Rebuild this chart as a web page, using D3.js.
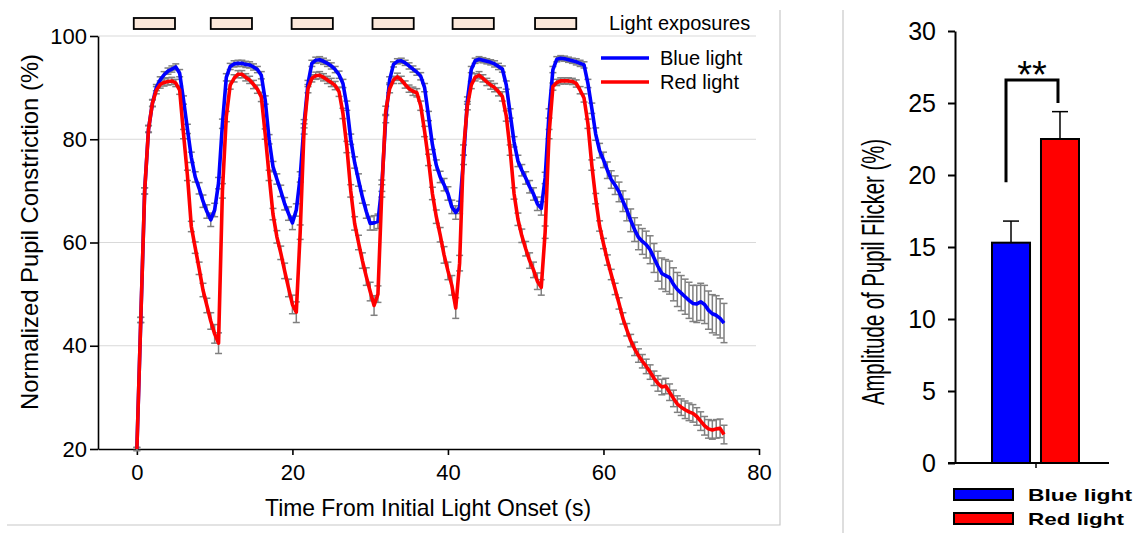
<!DOCTYPE html>
<html>
<head>
<meta charset="utf-8">
<script src="https://cdn.jsdelivr.net/npm/d3@7"></script>
<style>
  body { margin: 0; background: #fff; }
  svg text { font-family: "Liberation Sans", Arial, sans-serif; fill: #000; }
</style>
</head>
<body>
<svg id="fig" width="1138" height="533"></svg>
<script>
// ---- data: pupil constriction time course, one sample every 0.5 s ----
var sampleStep = 0.5;

var blueMean = [
	20, 45, 70, 82, 87, 90, 91.5, 92.5, 93.2, 93.6,
	94.0, 92.8, 87.6, 82, 76.5, 72.7, 70.5, 68, 66, 64.4,
	66.3, 71.5, 83, 92, 94.1, 94.6, 94.7, 94.7, 94.5, 94.4,
	94.0, 93.5, 92.4, 87.6, 80, 74.7, 72.3, 70, 67.5, 65.6,
	63.8, 66.3, 72.7, 83, 90.8, 94.7, 95.3, 95.4, 95.1, 94.7,
	94.2, 93.5, 92.5, 90.8, 86.5, 80, 75.5, 72.1, 68.8, 66,
	63.7, 63.8, 64.1, 71, 84, 91.5, 94.5, 95.1, 95.2, 94.8,
	94.2, 93.6, 93.0, 92.2, 90, 84.5, 79, 75, 72.7, 71.2,
	69.5, 66.9, 65.8, 66.8, 76, 87.5, 93.5, 95.2, 95.5, 95.3,
	95.1, 94.9, 94.6, 94.1, 93.6, 90.5, 85, 79.5, 75.8, 74.0,
	72.5, 70.8, 69.4, 67.5, 66.6, 72.5, 85, 93.5, 95.5, 95.7,
	95.6, 95.4, 95.2, 95.0, 94.7, 94.4, 90.8, 86, 81, 77.8,
	76.0, 74, 72.2, 71.1, 69.8, 68, 66.3, 64.3, 62.5, 61,
	60.2, 59.6, 58.6, 57, 55.4, 54.0, 53.6, 53.2, 51.9, 50.9,
	50.2, 49.5, 48.8, 48.2, 48.1, 48.5, 48.0, 46.9, 46.2, 45.9, 45.3, 44.4
];
var blueErr = [
	0.3, 0.5, 0.6, 0.6, 0.6, 0.6, 0.6, 0.6, 0.6, 0.6,
	0.6, 0.7, 0.8, 0.9, 1.0, 1.0, 1.1, 1.2, 1.3, 1.3,
	1.3, 1.1, 0.9, 0.7, 0.6, 0.6, 0.6, 0.6, 0.6, 0.6,
	0.6, 0.6, 0.7, 0.8, 0.9, 1.0, 1.0, 1.1, 1.2, 1.3,
	1.3, 1.2, 1.0, 0.8, 0.6, 0.6, 0.6, 0.6, 0.6, 0.6,
	0.6, 0.6, 0.7, 0.8, 0.9, 1.0, 1.1, 1.2, 1.2, 1.3,
	1.3, 1.4, 1.4, 1.1, 0.8, 0.6, 0.5, 0.5, 0.5, 0.5,
	0.6, 0.6, 0.6, 0.7, 0.8, 0.9, 1.0, 1.0, 1.1, 1.2,
	1.3, 1.3, 1.3, 1.2, 0.9, 0.7, 0.6, 0.5, 0.5, 0.5,
	0.5, 0.5, 0.6, 0.6, 0.6, 0.8, 0.9, 1.0, 1.1, 1.1,
	1.2, 1.2, 1.2, 1.3, 1.3, 1.1, 0.9, 0.6, 0.5, 0.5,
	0.5, 0.5, 0.5, 0.6, 0.6, 0.6, 0.8, 1.0, 1.2, 1.4,
	1.5, 1.6, 1.7, 1.8, 1.9, 2.0, 2.1, 2.2, 2.3, 2.4,
	2.5, 2.6, 2.7, 2.8, 2.9, 3.0, 3.1, 3.2, 3.2, 3.3,
	3.4, 3.4, 3.5, 3.5, 3.6, 3.6, 3.7, 3.7, 3.7, 3.8, 3.8, 3.8
];

var redMean = [
	20, 45, 70, 82, 87, 89.5, 90.6, 91.0, 91.2, 91.3,
	90.9, 89.5, 81, 73, 63.1, 59, 55, 50.8, 47.8, 44.8,
	42.3, 40.5, 70, 84.4, 90.5, 91.8, 92.6, 92.6, 92.0, 91.5,
	90.6, 89.7, 88.2, 81, 73, 65.5, 61.1, 58, 54.5, 51.2,
	48.0, 46.5, 62, 82, 89.8, 91.8, 92.3, 92.4, 92.0, 91.5,
	91.0, 90.4, 89.2, 85, 78.5, 70, 63.7, 60, 56.5, 53.4,
	50.5, 47.8, 50, 70, 85.5, 89.8, 91.5, 92.1, 91.5, 90.6,
	89.8, 89.3, 89.0, 86.5, 81.5, 76, 69.5, 65, 61.5, 57.6,
	54.5, 51.7, 47.3, 56, 77.9, 86.5, 90.5, 92.0, 92.4, 91.8,
	91.1, 90.5, 90.0, 89.2, 88.3, 84.5, 77.9, 69.5, 64.5, 61.3,
	58.8, 56.5, 54.7, 52.5, 51.3, 62, 81, 90.2, 91.0, 91.3,
	91.3, 91.3, 91.2, 90.8, 89.5, 88, 83, 75, 68.5, 63.2,
	59.8, 56.6, 53.8, 51.0, 48.2, 45.3, 43.1, 41.0, 39.4, 38.1,
	37.0, 36.0, 34.9, 33.7, 32.7, 32.0, 32.2, 31.0, 29.8, 28.7,
	28.1, 27.6, 27.2, 26.9, 26.3, 25.4, 24.5, 23.9, 23.7, 23.9, 24.0, 22.8
];
var redErr = [
	0.3, 0.5, 0.6, 0.7, 0.7, 0.7, 0.7, 0.7, 0.7, 0.7,
	0.7, 0.8, 0.9, 1.0, 1.0, 1.1, 1.2, 1.3, 1.4, 1.6,
	1.8, 2.0, 1.4, 1.0, 0.8, 0.7, 0.7, 0.7, 0.7, 0.7,
	0.8, 0.8, 0.9, 1.0, 1.0, 1.1, 1.2, 1.3, 1.5, 1.7,
	1.8, 2.0, 1.4, 1.0, 0.8, 0.7, 0.7, 0.7, 0.7, 0.7,
	0.8, 0.8, 0.9, 1.0, 1.1, 1.2, 1.3, 1.4, 1.5, 1.7,
	1.8, 1.9, 1.6, 1.2, 0.9, 0.8, 0.7, 0.7, 0.7, 0.7,
	0.7, 0.8, 0.8, 0.9, 1.0, 1.1, 1.2, 1.3, 1.4, 1.6,
	1.7, 1.9, 2.0, 1.5, 1.0, 0.8, 0.7, 0.7, 0.7, 0.7,
	0.7, 0.8, 0.8, 0.8, 0.9, 1.0, 1.0, 1.1, 1.2, 1.3,
	1.4, 1.5, 1.5, 1.6, 1.5, 1.2, 0.9, 0.7, 0.6, 0.6,
	0.6, 0.6, 0.6, 0.7, 0.7, 0.8, 0.9, 1.0, 1.0, 1.0,
	1.0, 1.0, 1.0, 1.1, 1.1, 1.1, 1.2, 1.2, 1.3, 1.3,
	1.3, 1.4, 1.4, 1.4, 1.5, 1.5, 1.5, 1.6, 1.6, 1.6,
	1.6, 1.7, 1.7, 1.7, 1.7, 1.8, 1.8, 1.8, 1.8, 1.8, 1.8, 1.8
];

// light exposure windows (s)
var exposureStart = [-0.4, 9.5, 19.9, 30.3, 40.6, 51.2];
var exposureLength = 5.3;

var lineTicksX = [0, 20, 40, 60, 80];
var lineTicksY = [20, 40, 60, 80, 100];

// ---- data: flicker amplitude bars ----
var barLabels = ["Blue light", "Red light"];
var barValues = [15.3, 22.5];
var barErrors = [1.5, 1.9];
var barColors = ["#0000ff", "#ff0000"];
var barTicksY = [0, 5, 10, 15, 20, 25, 30];

var svg = d3.select("#fig");

// panel frames
svg.append("path").attr("d", "M7,525H780V10").attr("fill", "none").attr("stroke", "#c8c8c8").attr("stroke-width", 1.2);
svg.append("line").attr("x1", 843).attr("x2", 843).attr("y1", 10).attr("y2", 533).attr("stroke", "#c8c8c8").attr("stroke-width", 1.2);

// ================= left: time course =================
var x = d3.scaleLinear().domain([-5, 80]).range([98, 759]);
var y = d3.scaleLinear().domain([20, 100]).range([449, 36]);

function toPoints(mean, err) {
	return mean.map(function(v, i) { return { t: i * sampleStep, v: v, e: err[i] }; });
}
var series = [
	{ name: "Blue light", color: "#0000ff", pts: toPoints(blueMean, blueErr) },
	{ name: "Red light", color: "#ff0000", pts: toPoints(redMean, redErr) }
];

// grid
svg.append("g").selectAll("line")
	.data(lineTicksY.filter(function(d) { return d > 20; }))
	.enter().append("line")
	.attr("x1", x(-5)).attr("x2", 756)
	.attr("y1", function(d) { return y(d); }).attr("y2", function(d) { return y(d); })
	.attr("stroke", "#d9d9d9").attr("stroke-width", 1.2);

// exposure boxes
svg.append("g").selectAll("rect")
	.data(exposureStart)
	.enter().append("rect")
	.attr("x", function(d) { return x(d); })
	.attr("width", function(d) { return x(d + exposureLength) - x(d); })
	.attr("y", 18).attr("height", 11)
	.attr("fill", "#fbe8da").attr("stroke", "#000").attr("stroke-width", 1.8);
svg.append("text").attr("x", 609).attr("y", 30).style("font-size", "20px").text("Light exposures");

// axes
var yAxis = svg.append("g").attr("transform", "translate(" + x(-5) + ",0)")
	.call(d3.axisLeft(y).tickValues(lineTicksY).tickSize(8).tickSizeOuter(0).tickPadding(3));
var xAxis = svg.append("g").attr("transform", "translate(0," + y(20) + ")")
	.call(d3.axisBottom(x).tickValues(lineTicksX).tickSize(6).tickSizeOuter(0).tickPadding(9));
[yAxis, xAxis].forEach(function(a) {
	a.selectAll("path, line").attr("stroke", "#000").attr("stroke-width", 1.6);
	a.selectAll("text").style("font-size", "22px").style("font-family", "Liberation Sans, Arial, sans-serif");
});
xAxis.selectAll("text").style("font-family", "'Liberation Sans Narrow', 'Liberation Sans', sans-serif").style("font-size", "22px");

// error bars
var errG = svg.append("g");
series.forEach(function(s) {
	var g = errG.append("g").selectAll("g").data(s.pts).enter().append("g");
	g.append("line")
		.attr("x1", function(d) { return x(d.t); }).attr("x2", function(d) { return x(d.t); })
		.attr("y1", function(d) { return y(d.v - d.e); }).attr("y2", function(d) { return y(d.v + d.e); });
	[-1, 1].forEach(function(sign) {
		g.append("line")
			.attr("x1", function(d) { return x(d.t) - 3.5; }).attr("x2", function(d) { return x(d.t) + 3.5; })
			.attr("y1", function(d) { return y(d.v + sign * d.e); }).attr("y2", function(d) { return y(d.v + sign * d.e); });
	});
	g.selectAll("line").attr("stroke", "#808080").attr("stroke-width", 1.5);
});

// lines
var line = d3.line().x(function(d) { return x(d.t); }).y(function(d) { return y(d.v); });
svg.append("g").selectAll("path")
	.data(series)
	.enter().append("path")
	.attr("d", function(d) { return line(d.pts); })
	.attr("fill", "none")
	.attr("stroke", function(d) { return d.color; })
	.attr("stroke-width", 3.6)
	.attr("stroke-linejoin", "round");

// legend
var leg = svg.append("g").selectAll("g").data(series).enter().append("g")
	.attr("transform", function(d, i) { return "translate(601," + (58 + i * 24) + ")"; });
leg.append("line").attr("x1", 0).attr("x2", 48).attr("stroke", function(d) { return d.color; }).attr("stroke-width", 3.6);
leg.append("text").attr("x", 59).attr("dy", "0.35em").style("font-size", "20px").text(function(d) { return d.name; });

// titles
svg.append("text")
	.attr("transform", "translate(38,232) rotate(-90)")
	.attr("text-anchor", "middle")
	.attr("textLength", 356).attr("lengthAdjust", "spacingAndGlyphs")
	.style("font-size", "24px")
	.text("Normalized Pupil Constriction (%)");
svg.append("text")
	.attr("x", 428).attr("y", 516)
	.attr("text-anchor", "middle")
	.attr("textLength", 326).attr("lengthAdjust", "spacingAndGlyphs")
	.style("font-size", "24px")
	.text("Time From Initial Light Onset (s)");

// ================= right: bar chart =================
var yb = d3.scaleLinear().domain([0, 30]).range([463, 31]);
var xb = d3.scaleBand().domain(barLabels).range([992, 1079]).paddingInner(0.224).paddingOuter(0);

var ybAxis = svg.append("g").attr("transform", "translate(955,0)")
	.call(d3.axisLeft(yb).tickValues(barTicksY).tickSize(7).tickSizeOuter(0).tickPadding(12));
ybAxis.selectAll("path, line").attr("stroke", "#000").attr("stroke-width", 2);
ybAxis.selectAll("text").style("font-size", "25px").style("font-family", "Liberation Sans, Arial, sans-serif");

// x baseline and centre tick
svg.append("line").attr("x1", 948).attr("x2", 1109).attr("y1", yb(0)).attr("y2", yb(0)).attr("stroke", "#000").attr("stroke-width", 2);
svg.append("line").attr("x1", 1036).attr("x2", 1036).attr("y1", yb(0)).attr("y2", yb(0) + 5).attr("stroke", "#000").attr("stroke-width", 1.5);

var bars = svg.append("g").selectAll("g").data(barLabels).enter().append("g");
bars.append("line")
	.attr("x1", function(d) { return xb(d) + xb.bandwidth() / 2; })
	.attr("x2", function(d) { return xb(d) + xb.bandwidth() / 2; })
	.attr("y1", function(d, i) { return yb(barValues[i]); })
	.attr("y2", function(d, i) { return yb(barValues[i] + barErrors[i]); })
	.attr("stroke", "#000").attr("stroke-width", 1.5);
bars.append("line")
	.attr("x1", function(d) { return xb(d) + xb.bandwidth() / 2 - 8; })
	.attr("x2", function(d) { return xb(d) + xb.bandwidth() / 2 + 8; })
	.attr("y1", function(d, i) { return yb(barValues[i] + barErrors[i]); })
	.attr("y2", function(d, i) { return yb(barValues[i] + barErrors[i]); })
	.attr("stroke", "#000").attr("stroke-width", 1.5);
bars.append("rect")
	.attr("x", function(d) { return xb(d); })
	.attr("width", xb.bandwidth())
	.attr("y", function(d, i) { return yb(barValues[i]); })
	.attr("height", function(d, i) { return yb(0) - yb(barValues[i]); })
	.attr("fill", function(d, i) { return barColors[i]; })
	.attr("stroke", "#000").attr("stroke-width", 2);

// significance bracket
var bx1 = xb(barLabels[0]) + 14, bx2 = xb(barLabels[1]) + 17;
svg.append("path")
	.attr("d", "M" + bx1 + "," + yb(19.5) + "V" + yb(26.6) + "H" + bx2 + "V" + yb(25))
	.attr("fill", "none").attr("stroke", "#000").attr("stroke-width", 3);
svg.append("text").attr("x", (bx1 + bx2) / 2).attr("y", 88).attr("text-anchor", "middle")
	.style("font-size", "38px").text("**");

// bar y title (condensed look via horizontal squeeze)
svg.append("text")
	.attr("transform", "translate(884,272) rotate(-90) scale(0.655,1)")
	.attr("text-anchor", "middle")
	.style("font-size", "31px")
	.text("Amplitude of Pupil Flicker (%)");

// bar legend
var bleg = svg.append("g").selectAll("g").data(barLabels).enter().append("g")
	.attr("transform", function(d, i) { return "translate(954," + (489 + i * 24) + ")"; });
bleg.append("rect").attr("width", 59).attr("height", 11)
	.attr("fill", function(d, i) { return barColors[i]; }).attr("stroke", "#000").attr("stroke-width", 2);
bleg.append("text").attr("x", 74).attr("y", 12)
	.attr("textLength", function(d) { return d === "Blue light" ? 104 : 96; }).attr("lengthAdjust", "spacingAndGlyphs")
	.style("font-size", "17px").style("font-weight", "bold")
	.text(function(d) { return d; });
</script>
</body>
</html>
